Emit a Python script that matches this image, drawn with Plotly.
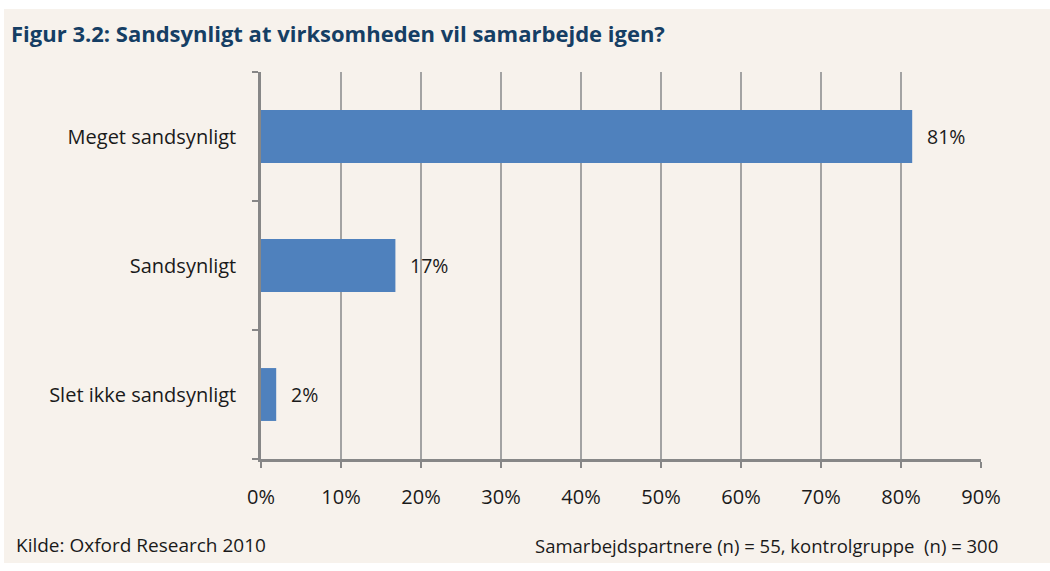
"""Figur 3.2 - sandsynlighed for fornyet samarbejde."""

import plotly.graph_objects as go

categories = ["Meget sandsynligt", "Sandsynligt", "Slet ikke sandsynligt"]
shares = [0.814, 0.168, 0.019]
x_ticks = [0, 0.1, 0.2, 0.3, 0.4, 0.5, 0.6, 0.7, 0.8, 0.9]

TITLE = "Figur 3.2: Sandsynligt at virksomheden vil samarbejde igen?"
SOURCE = "Kilde: Oxford Research 2010"
NOTE = "Samarbejdspartnere (n) = 55, kontrolgruppe  (n) = 300"

BG = "#f7f2ec"
BAR = "#4f81bd"
FONT = "'Open Sans', sans-serif"

fig = go.Figure(
    go.Bar(
        x=shares,
        y=categories,
        orientation="h",
        marker=dict(color=BAR, line=dict(width=0)),
        hoverinfo="skip",
    )
)

for cat, val in zip(categories, shares):
    fig.add_annotation(
        x=val, y=cat, text=f"{val:.0%}", showarrow=False,
        xanchor="left", xshift=13,
        font=dict(family=FONT, size=19.5, color="#1a1a1a"),
    )

fig.add_shape(
    type="rect", xref="paper", yref="paper", layer="below",
    x0=-257 / 720, x1=(1050 - 261) / 720,
    y0=(459 - 563) / 387, y1=(459 - 9) / 387,
    fillcolor=BG, line=dict(width=0),
)

fig.add_annotation(
    text=f"<b>{TITLE}</b>", xref="paper", yref="paper",
    x=-252 / 720, y=(459 - 33) / 387, xanchor="left", yanchor="middle",
    showarrow=False, font=dict(family=FONT, size=22, color="#153e64"),
)
fig.add_annotation(
    text=SOURCE, xref="paper", yref="paper",
    x=-247 / 720, y=(459 - 545) / 387, xanchor="left", yanchor="middle",
    showarrow=False, font=dict(family=FONT, size=19, color="#1a1a1a"),
)
fig.add_annotation(
    text=NOTE, xref="paper", yref="paper",
    x=(1000 - 261) / 720, y=(459 - 545) / 387, xanchor="right", yanchor="middle",
    showarrow=False, font=dict(family=FONT, size=18.5, color="#1a1a1a"),
)

fig.update_layout(
    width=1050,
    height=571,
    margin=dict(l=261, r=69, t=72, b=112),
    paper_bgcolor="white",
    plot_bgcolor=BG,
    bargap=0.59,
    showlegend=False,
    font=dict(family=FONT, size=20, color="#1a1a1a"),
    xaxis=dict(
        range=[0, 0.9],
        tickvals=x_ticks,
        tickformat=".0%",
        showgrid=True,
        gridcolor="#a3a3a3",
        gridwidth=1.5,
        showline=True,
        linecolor="#878787",
        linewidth=2.5,
        ticks="outside",
        ticklen=6,
        tickcolor="#878787",
        tickwidth=2,
        ticklabelstandoff=12,
        zeroline=False,
        fixedrange=True,
    ),
    yaxis=dict(
        categoryorder="array",
        categoryarray=categories[::-1],
        tickson="boundaries",
        showgrid=False,
        showline=True,
        linecolor="#878787",
        linewidth=2.5,
        ticks="outside",
        ticklen=6,
        tickcolor="#878787",
        tickwidth=2,
        ticklabelstandoff=18,
        fixedrange=True,
    ),
)

# drop the default body margin so the figure sits at the window's corner
fig.write_html(
    "out.html",
    config={"displayModeBar": False},
    post_script="document.body.style.margin = '0';",
)
